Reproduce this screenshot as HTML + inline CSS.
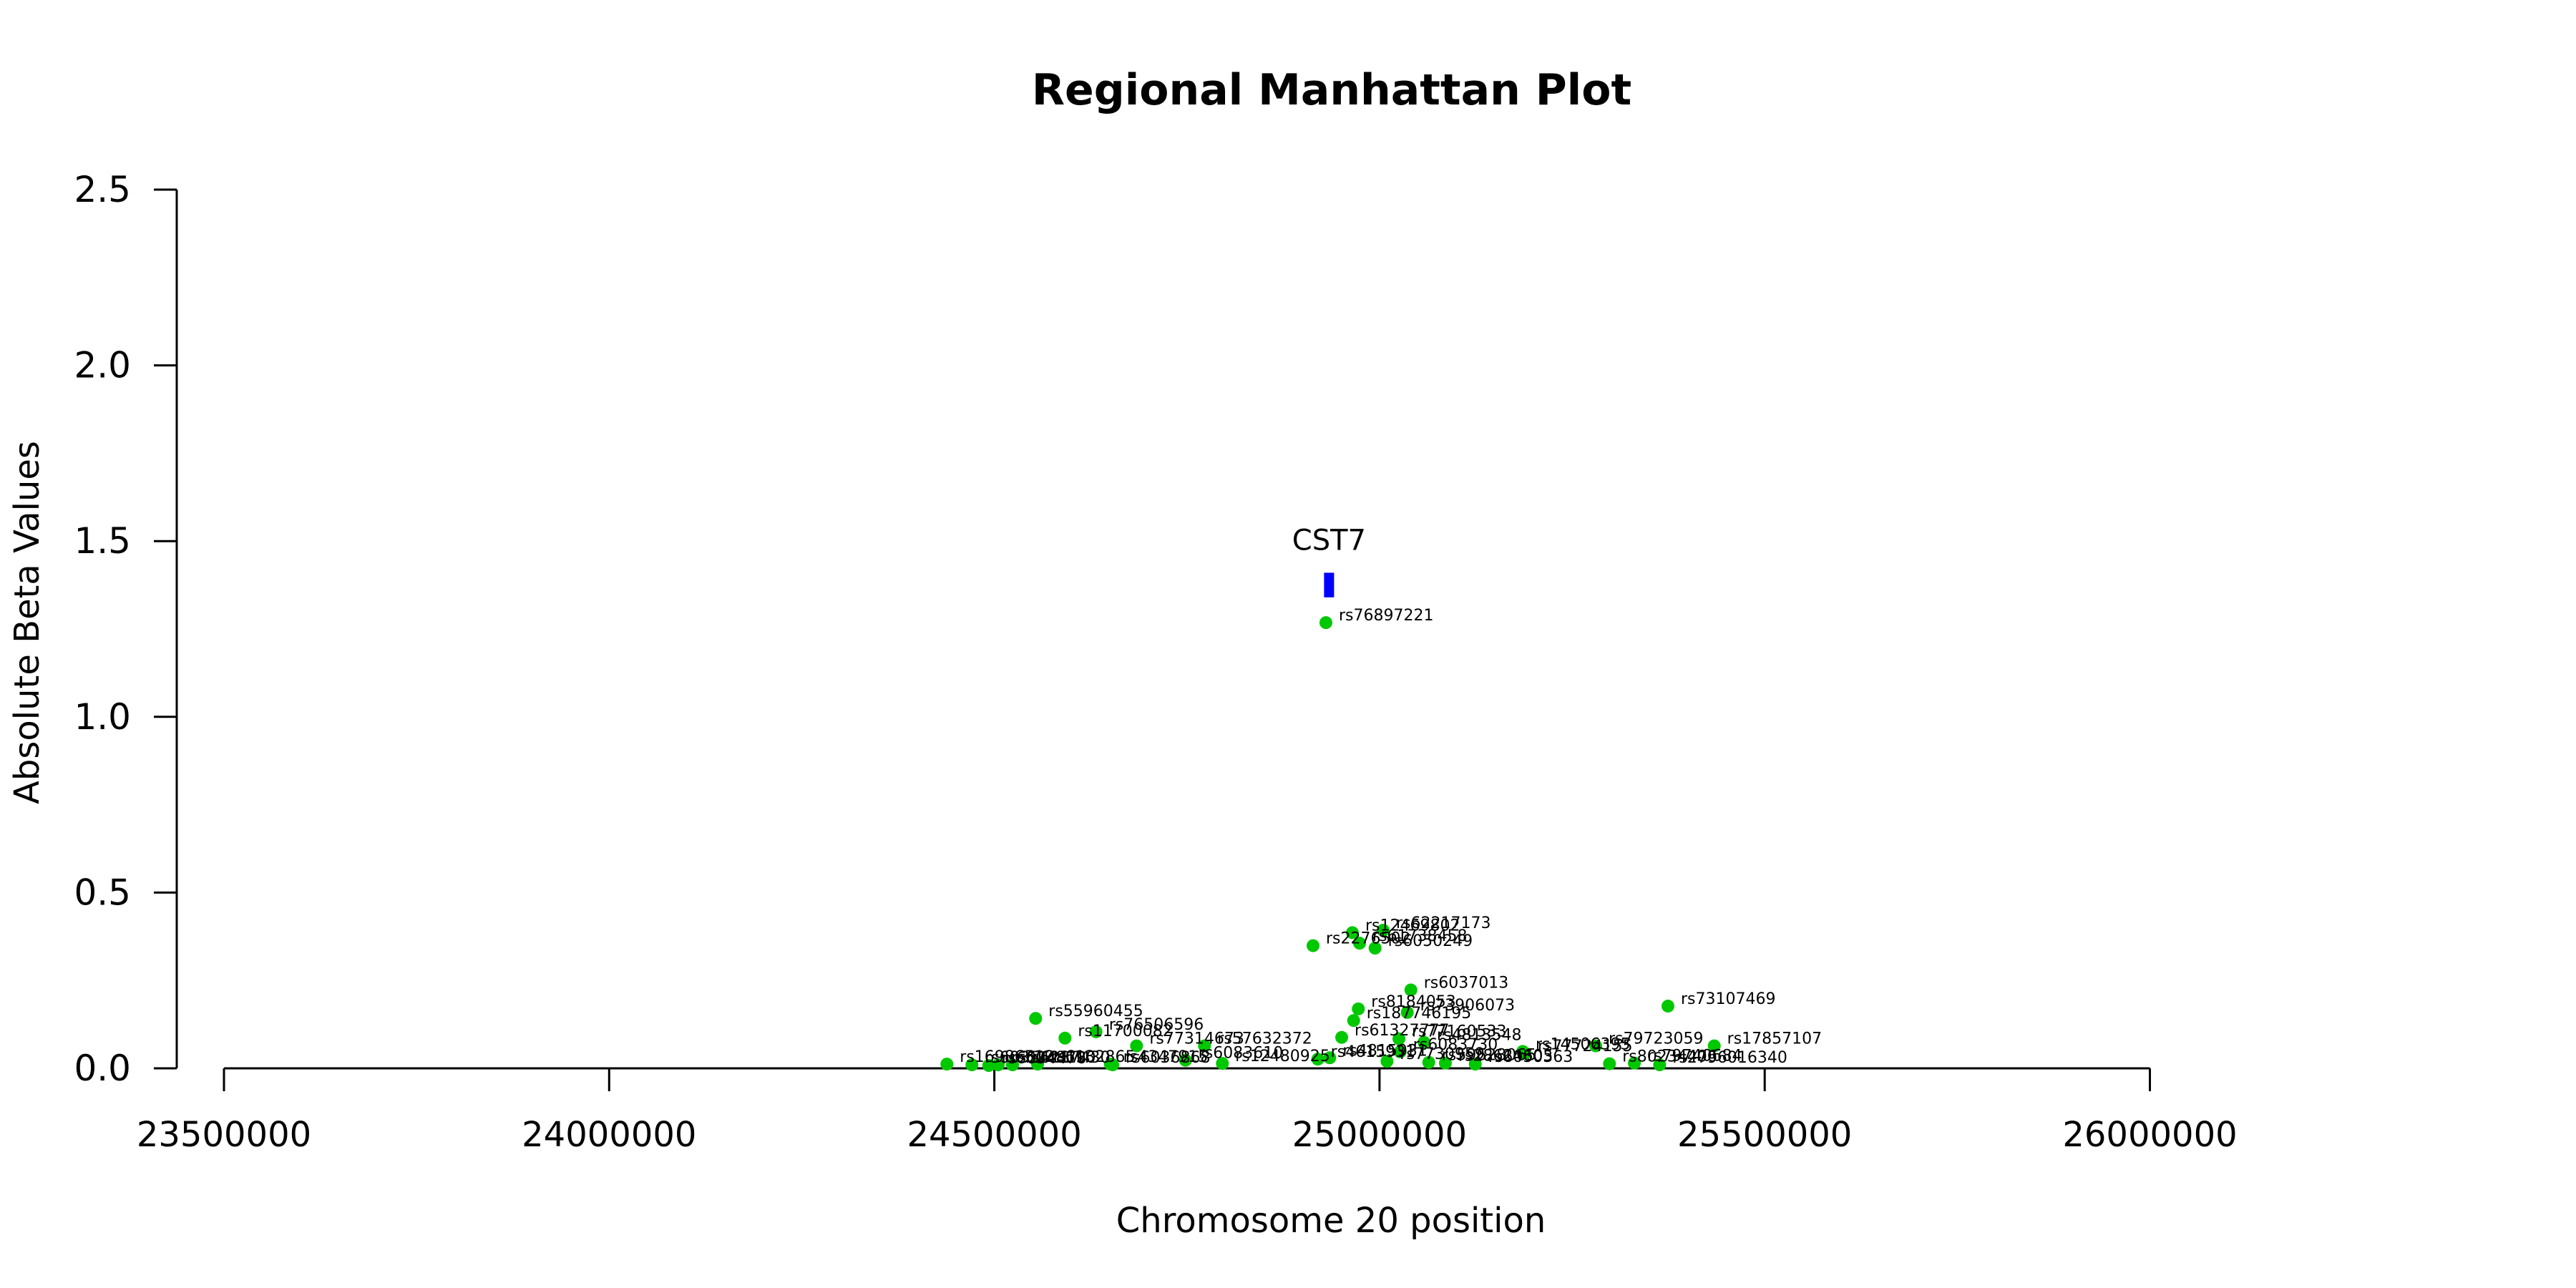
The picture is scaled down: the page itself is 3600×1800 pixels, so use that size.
<!DOCTYPE html>
<html><head><meta charset="utf-8"><style>
html,body{margin:0;padding:0;background:#fff;}
svg{display:block;font-family:"DejaVu Sans","Liberation Sans",sans-serif;}
</style></head><body>
<svg id="chart" width="3600" height="1800" viewBox="0 0 3600 1800" xmlns="http://www.w3.org/2000/svg">
<rect width="3600" height="1800" fill="#fff"/>
<text x="1861" y="146" font-size="60" font-weight="bold" text-anchor="middle">Regional Manhattan Plot</text>
<text transform="translate(54,870) rotate(-90)" font-size="48" text-anchor="middle">Absolute Beta Values</text>
<text x="1860" y="1722" font-size="48" text-anchor="middle">Chromosome 20 position</text>
<g id="axes"></g>
<g id="gene"></g>
<g id="points"></g>
</svg>
<script>
const xTicks = [23500000, 24000000, 24500000, 25000000, 25500000, 26000000];
const yTicks = [0.0, 0.5, 1.0, 1.5, 2.0, 2.5];
const snpNames = ["rs16986512","rs6035421","rs6034476","rs6048190","rs6137430","rs55960455","rs6132865","rs11700082","rs76506596","rs4347915","rs6036868","rs77314673","rs6083610","rs57632372","rs12480925","rs2276502","rs4615931","rs76897221","rs4815931","rs61327777","rs12469802","rs187746195","rs8184053","rs61738458","rs6050249","rs62217173","rs7730959","rs77160533","rs6083730","rs73906073","rs6037013","rs4813548","rs59628065","rs28624605","rs6050363","rs14506395","rs77724155","rs79723059","rs80234406","rs79740684","rs2796016340","rs73107469","rs17857107"];
const snpPos = [24438400,24470900,24492700,24505000,24523600,24553600,24556100,24591700,24632000,24650600,24653600,24684600,24748100,24772800,24796000,24913700,24919900,24930400,24935400,24950900,24964800,24966400,24972500,24974100,24994200,25004700,25009700,25025200,25026800,25036000,25040700,25057700,25063900,25085500,25124300,25185900,25188700,25280600,25298500,25330800,25363600,25374400,25434500];
const snpBeta = [0.012,0.010,0.008,0.010,0.010,0.142,0.012,0.086,0.104,0.012,0.010,0.064,0.023,0.064,0.014,0.349,0.026,1.268,0.030,0.088,0.386,0.136,0.169,0.356,0.342,0.393,0.020,0.084,0.047,0.159,0.223,0.074,0.017,0.015,0.012,0.048,0.043,0.064,0.013,0.015,0.010,0.177,0.064];
const geneName = ["CST7"];
const geneStart = [24928000];
const geneEnd = [24941000];
const geneTop = [1.41];
const geneBottom = [1.34];

const NS = "http://www.w3.org/2000/svg";
const X0 = 313, PXPER = 538.3/500000, Y0 = 1493, PYPER = 491.2;
function xs(p){ return X0 + (p - 23500000) * PXPER; }
function ys(v){ return Y0 - v * PYPER; }
function mk(tag, attrs, parent){
  const e = document.createElementNS(NS, tag);
  for (const k in attrs) e.setAttribute(k, attrs[k]);
  parent.appendChild(e);
  return e;
}
const axes = document.getElementById("axes");
// y axis
const yl = mk("line", {x1:247, x2:247, y1:ys(yTicks[yTicks.length-1]), y2:ys(yTicks[0]), stroke:"#000", "stroke-width":3}, axes);


yTicks.forEach(v => {
  const t = mk("line", {x1:215, x2:247, y1:ys(v), y2:ys(v), stroke:"#000", "stroke-width":3}, axes);
  
  
  const lb = mk("text", {x:183, y:ys(v)+17, "font-size":50, "text-anchor":"end"}, axes);
  
  
  lb.textContent = v.toFixed(1);
});
// x axis
const xl = mk("line", {x1:xs(xTicks[0]), x2:xs(xTicks[xTicks.length-1]), y1:Y0, y2:Y0, stroke:"#000", "stroke-width":3}, axes);


xTicks.forEach(p => {
  const t = mk("line", {x1:xs(p), x2:xs(p), y1:Y0, y2:Y0+32, stroke:"#000", "stroke-width":3}, axes);
  
  
  const lb = mk("text", {x:xs(p), y:1602, "font-size":48, "text-anchor":"middle"}, axes);
  
  
  lb.textContent = String(p);
});
// gene
const gg = document.getElementById("gene");
geneName.forEach((g, i) => {
  const r = mk("rect", {x:xs(geneStart[i]), y:ys(geneTop[i]), width:xs(geneEnd[i])-xs(geneStart[i]), height:ys(geneBottom[i])-ys(geneTop[i]), fill:"#0000ff"}, gg);
  
  
  const t = mk("text", {x:(xs(geneStart[i])+xs(geneEnd[i]))/2, y:ys(geneTop[i])-32, "font-size":40, "text-anchor":"middle"}, gg);
  
  
  t.textContent = g;
});
// points
const pg = document.getElementById("points");
snpPos.forEach((p, i) => {
  const c = mk("circle", {cx:xs(p), cy:ys(snpBeta[i]), r:9, fill:"#00c800"}, pg);
  
  
});
snpPos.forEach((p, i) => {
  const t = mk("text", {x:xs(p)+18, y:ys(snpBeta[i])-3, "font-size":22}, pg);
  
  
  t.textContent = snpNames[i];
});
</script>
</body></html>
